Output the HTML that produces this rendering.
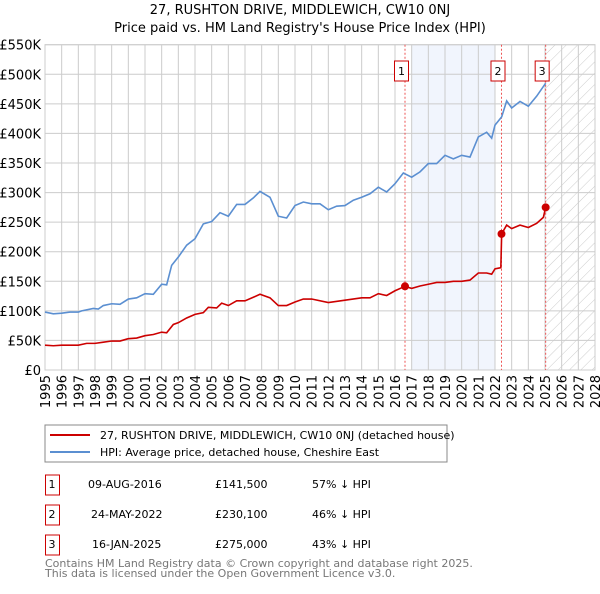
<!DOCTYPE html>
<html><head><meta charset="utf-8"><style>
body{margin:0;background:#fff;font-family:"DejaVu Sans","Liberation Sans",sans-serif}
svg text{font-family:"DejaVu Sans","Liberation Sans",sans-serif}
</style></head><body>
<svg id="c" width="600" height="590" xmlns="http://www.w3.org/2000/svg">
<defs><pattern id="hatch" width="8" height="8" patternUnits="userSpaceOnUse" patternTransform="rotate(45)"><line x1="0" y1="0" x2="0" y2="8" stroke="#ccc" stroke-width="1"/></pattern></defs>
<text x="300" y="14" text-anchor="middle" font-size="13">27, RUSHTON DRIVE, MIDDLEWICH, CW10 0NJ</text>
<text x="300" y="32" text-anchor="middle" font-size="13">Price paid vs. HM Land Registry's House Price Index (HPI)</text>
<g id="plot"></g>
<rect x="45" y="425" width="402" height="37" fill="#fff" stroke="#888"/>
<line x1="50" y1="435" x2="90" y2="435" stroke="#cc0000" stroke-width="2"/>
<text x="100" y="439" font-size="11">27, RUSHTON DRIVE, MIDDLEWICH, CW10 0NJ (detached house)</text>
<line x1="50" y1="452" x2="90" y2="452" stroke="#5b8fd1" stroke-width="2"/>
<text x="100" y="456" font-size="11">HPI: Average price, detached house, Cheshire East</text>
<g font-size="11">
<rect x="45.5" y="475" width="14" height="20" fill="#fff" stroke="#cc0000"/><text x="52" y="488" text-anchor="middle">1</text>
<text x="88" y="488">09-AUG-2016</text><text x="215" y="488">£141,500</text><text x="312" y="488">57% ↓ HPI</text>
<rect x="45.5" y="505" width="14" height="20" fill="#fff" stroke="#cc0000"/><text x="52" y="518" text-anchor="middle">2</text>
<text x="91" y="518">24-MAY-2022</text><text x="215" y="518">£230,100</text><text x="312" y="518">46% ↓ HPI</text>
<rect x="45.5" y="535" width="14" height="20" fill="#fff" stroke="#cc0000"/><text x="52" y="548" text-anchor="middle">3</text>
<text x="92" y="548">16-JAN-2025</text><text x="215" y="548">£275,000</text><text x="312" y="548">43% ↓ HPI</text>
</g>
<text x="45" y="567" font-size="11" fill="#777">Contains HM Land Registry data © Crown copyright and database right 2025.</text>
<text x="45" y="577" font-size="11" fill="#777">This data is licensed under the Open Government Licence v3.0.</text>
</svg>
<script>
const yTicks=[0,50,100,150,200,250,300,350,400,450,500,550];
const yTickLabels=["£0","£50K","£100K","£150K","£200K","£250K","£300K","£350K","£400K","£450K","£500K","£550K"];
const xYears=[1995,1996,1997,1998,1999,2000,2001,2002,2003,2004,2005,2006,2007,2008,2009,2010,2011,2012,2013,2014,2015,2016,2017,2018,2019,2020,2021,2022,2023,2024,2025,2026,2027,2028];
const hpiX=[1995,1995.5,1996,1996.5,1997,1997.2,1997.9,1998.2,1998.5,1999,1999.5,2000,2000.5,2001,2001.5,2002,2002.3,2002.6,2003,2003.5,2004,2004.5,2005,2005.5,2006,2006.5,2007,2007.5,2007.9,2008.5,2009,2009.5,2010,2010.5,2011,2011.5,2012,2012.5,2013,2013.5,2014,2014.5,2015,2015.5,2016,2016.5,2017,2017.5,2018,2018.5,2019,2019.5,2020,2020.5,2021,2021.5,2021.8,2022,2022.4,2022.7,2023,2023.5,2024,2024.5,2025.04];
const hpiV=[98,95,96,98,98,100,104,103,109,112,111,120,122,129,128,145,144,177,191,211,222,247,251,266,260,280,280,291,302,292,260,257,278,284,281,281,271,277,278,287,292,298,309,301,315,333,326,335,349,349,363,357,363,360,394,402,392,414,428,455,443,454,446,463,485];
const priceX=[1995,1995.5,1996,1997,1997.5,1998,1998.5,1999,1999.5,2000,2000.5,2001,2001.5,2002,2002.3,2002.7,2003,2003.5,2004,2004.5,2004.8,2005.3,2005.6,2006,2006.5,2007,2007.5,2007.9,2008.5,2009,2009.5,2010,2010.5,2011,2012,2013,2014,2014.5,2015,2015.5,2016,2016.6,2017,2017.5,2018,2018.5,2019,2019.5,2020,2020.5,2021,2021.5,2021.8,2022,2022.35,2022.4,2022.7,2023,2023.5,2024,2024.5,2024.9,2025.04];
const priceV=[42,41,42,42,45,45,47,49,49,53,54,58,60,64,63,77,80,88,94,97,106,105,113,109,117,117,123,128,122,109,109,115,120,120,114,118,122,122,129,126,134,141.5,138,142,145,148,148,150,150,152,164,164,162,171,173,230.1,245,239,245,241,248,258,275];
const salesX=[2016.6,2022.39,2025.04];
const salesV=[141.5,230.1,275];
const salesLabels=["1","2","3"];
const L=45,R=595,T=44.7,B=370;
const xs=y=>L+(y-1995)/(2028-1995)*(R-L);
const ys=v=>B-v/550*(B-T);
const NS="http://www.w3.org/2000/svg";
const g=document.getElementById('plot');
function mk(tag,attrs,parent){const e=document.createElementNS(NS,tag);for(const k in attrs)e.setAttribute(k,attrs[k]);(parent||g).appendChild(e);return e;}
let e;
e=mk('rect',{x:xs(2017),y:T,width:xs(2022)-xs(2017),height:B-T,fill:'#eef3fc',opacity:0.8});


e=mk('rect',{x:xs(2025),y:T,width:R-xs(2025),height:B-T,fill:'url(#hatch)'});


yTicks.forEach((t,i)=>{
 e=mk('line',{x1:L,x2:R,y1:ys(t),y2:ys(t),stroke:'#ccc','stroke-width':1});
 
 
 e=mk('text',{x:L-4,y:ys(t)+5,'text-anchor':'end','font-size':13});
 e.textContent=yTickLabels[i];
 
 
});
xYears.forEach(yr=>{
 e=mk('line',{x1:xs(yr),x2:xs(yr),y1:T,y2:B,stroke:'#ccc','stroke-width':1});
 
 
 e=mk('text',{x:0,y:0,'text-anchor':'end','font-size':13,transform:`translate(${xs(yr)+5},${B+5}) rotate(-90)`});
 e.textContent=yr;
 
 
});
e=mk('rect',{x:L,y:T,width:R-L,height:B-T,fill:'none',stroke:'#ccc'});


salesX.forEach((sx,i)=>{
 e=mk('line',{x1:xs(sx),x2:xs(sx),y1:T,y2:B,stroke:'#e55','stroke-width':1,'stroke-dasharray':'2,2'});
 
 
});
e=mk('polyline',{points:hpiX.map((x,i)=>xs(x)+','+ys(hpiV[i])).join(' '),fill:'none',stroke:'#5b8fd1','stroke-width':1.6});


e=mk('polyline',{points:priceX.map((x,i)=>xs(x)+','+ys(priceV[i])).join(' '),fill:'none',stroke:'#cc0000','stroke-width':1.6});


salesX.forEach((sx,i)=>{
 e=mk('circle',{cx:xs(sx),cy:ys(salesV[i]),r:4,fill:'#cc0000'});
 
 
 e=mk('rect',{x:xs(sx)-10.5,y:61,width:14,height:20,fill:'#fff',stroke:'#cc0000'});
 
 
 e=mk('text',{x:xs(sx)-3.5,y:75,'text-anchor':'middle','font-size':11});
 e.textContent=salesLabels[i];
 
 
});
</script>
</body></html>
